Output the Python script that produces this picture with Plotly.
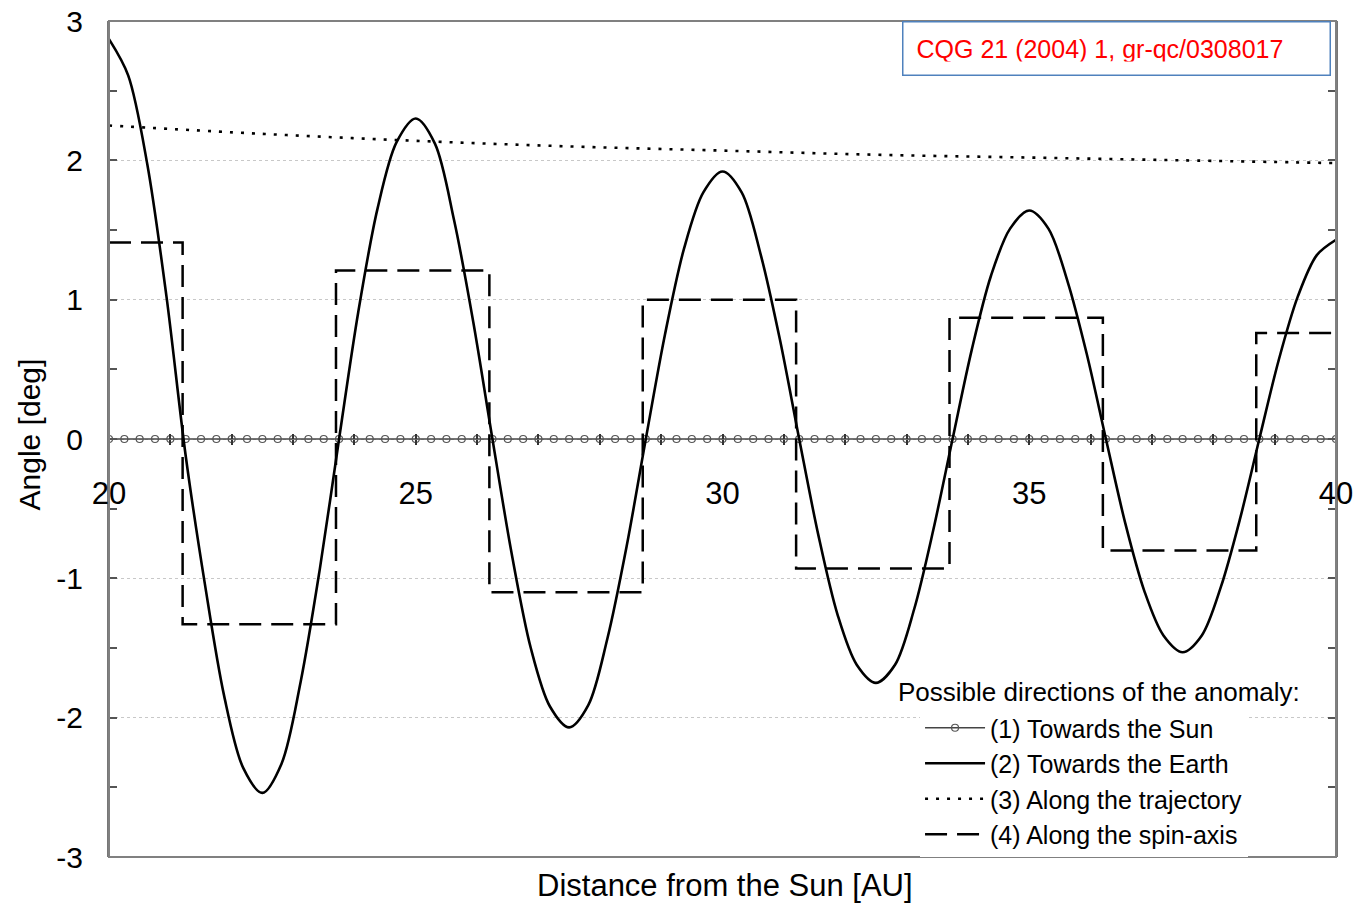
import plotly.graph_objects as go

# ---- data ----
# (1) Towards the Sun: zero line with markers every 0.25 AU
sun_x = [20 + 0.25 * i for i in range(81)]
sun_y = [0.0] * 81

# (2) Towards the Earth: damped oscillation (read every 0.3125 AU)
earth_x = [20.0, 20.3125, 20.625, 20.9375, 21.25, 21.5625, 21.875, 22.1875,
           22.5, 22.8125, 23.125, 23.4375, 23.75, 24.0625, 24.375, 24.6875,
           25.0, 25.3125, 25.625, 25.9375, 26.25, 26.5625, 26.875, 27.1875,
           27.5, 27.8125, 28.125, 28.4375, 28.75, 29.0625, 29.375, 29.6875,
           30.0, 30.3125, 30.625, 30.9375, 31.25, 31.5625, 31.875, 32.1875,
           32.5, 32.8125, 33.125, 33.4375, 33.75, 34.0625, 34.375, 34.6875,
           35.0, 35.3125, 35.625, 35.9375, 36.25, 36.5625, 36.875, 37.1875,
           37.5, 37.8125, 38.125, 38.4375, 38.75, 39.0625, 39.375, 39.6875,
           40.0]
earth_y = [2.87, 2.61, 1.97, 1.02, -0.12, -1.04, -1.84, -2.36,
           -2.54, -2.33, -1.74, -0.93, 0.00, 0.91, 1.65, 2.13,
           2.30, 2.12, 1.57, 0.84, 0.00, -0.82, -1.50, -1.92,
           -2.07, -1.91, -1.43, -0.77, 0.00, 0.75, 1.37, 1.77,
           1.92, 1.77, 1.32, 0.71, 0.00, -0.69, -1.26, -1.62,
           -1.75, -1.62, -1.22, -0.65, 0.00, 0.64, 1.17, 1.51,
           1.64, 1.51, 1.13, 0.61, 0.00, -0.60, -1.09, -1.41,
           -1.53, -1.41, -1.06, -0.57, 0.00, 0.56, 1.02, 1.32,
           1.43]

# (3) Along the trajectory
traj_x = [20.0, 22.5, 25.0, 27.5, 30.0, 32.5, 35.0, 37.5, 40.0]
traj_y = [2.25, 2.19, 2.14, 2.10, 2.07, 2.04, 2.02, 2.00, 1.98]

# (4) Along the spin-axis: step function
spin_x = [20.0, 21.2, 23.7, 26.2, 28.7, 31.2, 33.7, 36.2, 38.7, 40.0]
spin_y = [1.41, -1.33, 1.21, -1.10, 1.00, -0.93, 0.87, -0.80, 0.76, 0.76]

x_ticks = list(range(20, 41))
x_ticktext = [str(v) if v % 5 == 0 else "" for v in x_ticks]
y_ticks = [-3, -2, -1, 0, 1, 2, 3]
y_ticktext = ["-3", "-2", "-1", "0", "1", "2", "3"]

FONT = "Liberation Sans, Arial, sans-serif"

fig = go.Figure()
fig.add_trace(go.Scatter(
    x=sun_x, y=sun_y, mode="lines+markers", name="(1) Towards the Sun",
    line=dict(color="#444444", width=1.6),
    marker=dict(symbol="circle-open", size=7, color="#555555", line=dict(width=1.2))))
fig.add_trace(go.Scatter(
    x=earth_x, y=earth_y, mode="lines", name="(2) Towards the Earth",
    line=dict(color="black", width=2.6, shape="spline", smoothing=0.9)))
fig.add_trace(go.Scatter(
    x=traj_x, y=traj_y, mode="lines", name="(3) Along the trajectory",
    line=dict(color="black", width=2.6, dash="3px,8px", shape="spline")))
fig.add_trace(go.Scatter(
    x=spin_x, y=spin_y, mode="lines", name="(4) Along the spin-axis",
    line=dict(color="black", width=2.5, dash="22px,10px", shape="hv")))
# invisible trace for the crossing-tick overlay axis
fig.add_trace(go.Scatter(x=[20], y=[0], xaxis="x2", mode="markers",
                         marker=dict(opacity=0), showlegend=False, hoverinfo="skip"))

fig.update_layout(
    width=1369, height=908,
    margin=dict(l=109, r=33, t=21, b=51, autoexpand=False),
    paper_bgcolor="white", plot_bgcolor="white",
    font=dict(family=FONT, color="black"),
    showlegend=True,
    xaxis=dict(range=[20, 40], anchor="free", position=0.5, automargin=False,
               tickmode="array", tickvals=x_ticks, ticktext=x_ticktext,
               ticks="outside", ticklen=5, tickwidth=1.5, tickcolor="#333333",
               ticklabelstandoff=22, tickfont=dict(size=31),
               ticklabeloverflow="allow",
               showgrid=False, zeroline=False, showline=False),
    xaxis2=dict(range=[20, 40], overlaying="x", anchor="free", position=0.5,
                automargin=False,
                tickmode="array", tickvals=x_ticks, showticklabels=False,
                ticks="inside", ticklen=5, tickwidth=1.5, tickcolor="#333333",
                showgrid=False, zeroline=False, showline=False),
    yaxis=dict(range=[-3, 3], tickmode="array", tickvals=y_ticks, ticktext=y_ticktext,
               ticks="inside", ticklen=8, automargin=False,
               tickwidth=1.5, tickcolor="#555555", mirror="ticks",
               minor=dict(dtick=0.5, ticks="inside", ticklen=8, tickcolor="#555555"),
               showline=True, linecolor="#777777", linewidth=2,
               showgrid=True, gridcolor="#c8c8c8", griddash="dot", gridwidth=1,
               zeroline=False, tickfont=dict(size=30), ticklabelstandoff=18,
               ticklabeloverflow="allow"),
    legend=dict(x=0.661, xanchor="left", y=0.0, yanchor="bottom",
                bgcolor="white", borderwidth=0, font=dict(size=25),
                itemwidth=60, tracegroupgap=0),
    shapes=[dict(type="rect", xref="paper", yref="paper", x0=0, x1=1, y0=0, y1=1,
                 line=dict(color="#808080", width=2), layer="above")],
    annotations=[
        dict(text="Angle [deg]", xref="paper", yref="paper", x=-0.064, y=0.506,
             textangle=-90, showarrow=False, font=dict(size=30),
             xanchor="center", yanchor="middle"),
        dict(text="Distance from the Sun [AU]", xref="paper", yref="paper",
             x=0.502, y=-0.034, showarrow=False, font=dict(size=31),
             xanchor="center", yanchor="middle"),
        dict(text="Possible directions of the anomaly:", xref="paper", yref="paper",
             x=0.641, y=0.197, showarrow=False, font=dict(size=26),
             xanchor="left", yanchor="middle", bgcolor="white"),
        dict(text="CQG 21 (2004) 1, gr-qc/0308017", xref="paper", yref="paper",
             x=0.8215, y=0.967, showarrow=False, font=dict(size=25, color="red"),
             xanchor="center", yanchor="middle", align="left",
             width=400, height=26, borderpad=13,
             bordercolor="#4f81bd", borderwidth=1.5, bgcolor="white"),
    ],
)

fig.write_html("out.html",
               config={"displayModeBar": False},
               post_script="document.body.style.margin='0';"
                           "document.body.style.overflow='hidden';")
